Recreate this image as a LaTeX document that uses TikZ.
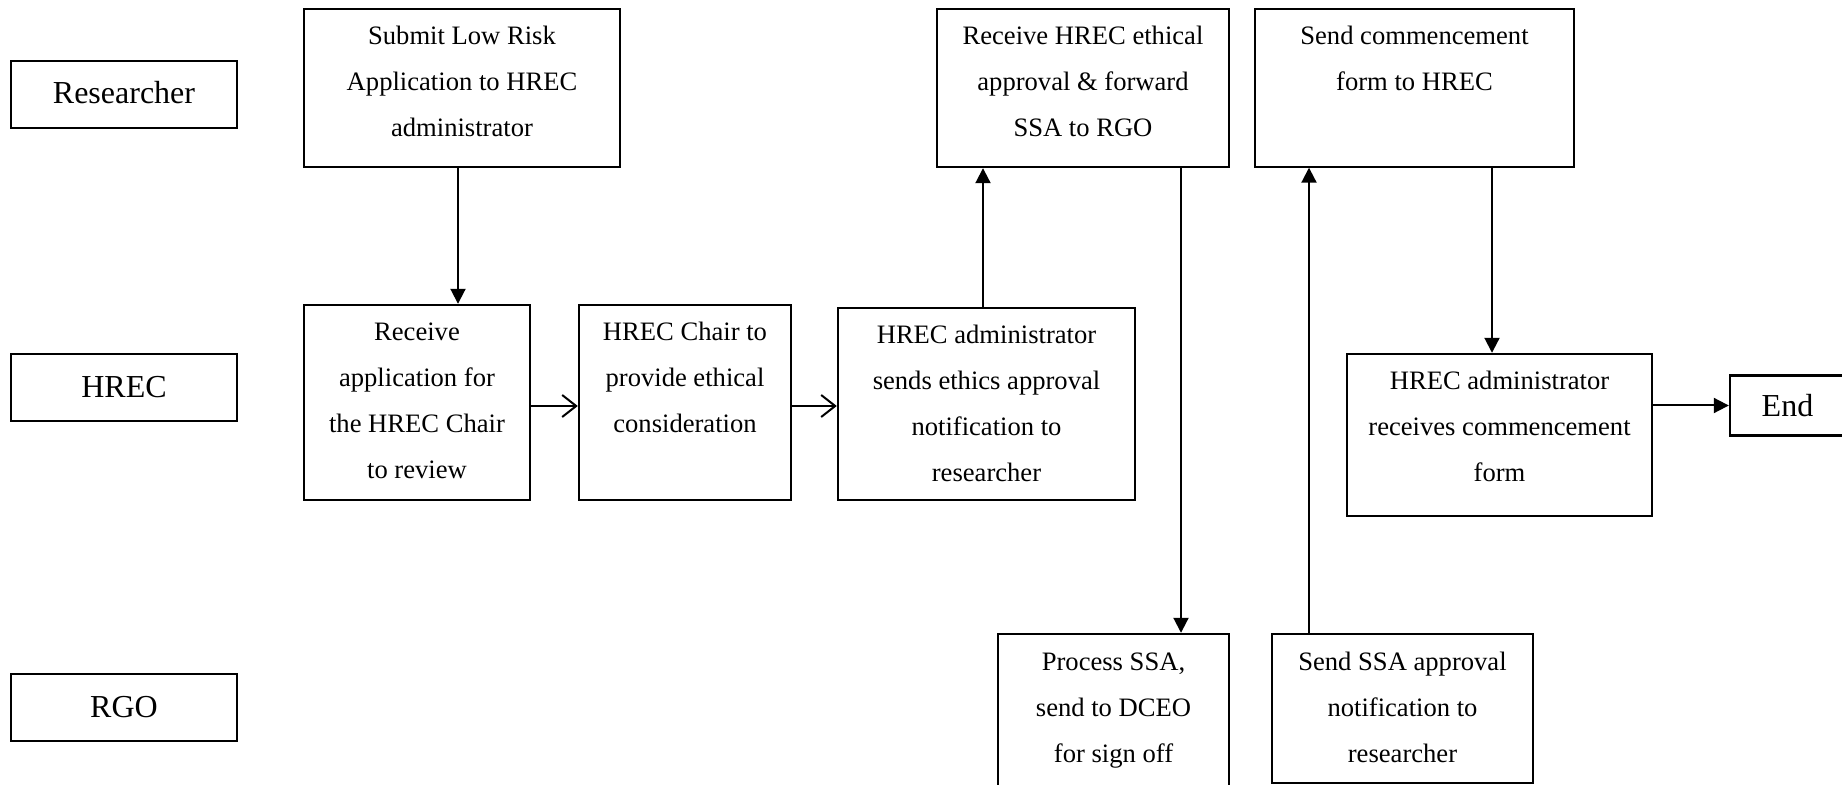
\documentclass[tikz,border=0pt]{standalone}
\usepackage{fontspec}
\setmainfont{Liberation Serif}
\usetikzlibrary{arrows.meta,calc}
% one drawing unit (px) = 0.5pt
\newdimen\px \px=0.5pt
% fixed-size box with its text set from the top
\newcommand{\boxtext}[3]{\parbox[c][#2\px][t]{#1\px}{\centering\rule{0pt}{18pt}#3}}
\begin{document}
\begin{tikzpicture}[x=0.5pt,y=-0.5pt,
  stepbox/.style={draw, line width=1.2pt, inner sep=0pt, font=\fontsize{13.3}{23}\selectfont},
  thinbox/.style={stepbox, line width=0.7pt},
  lane/.style={draw, line width=1.2pt, inner sep=0pt, minimum width=113pt, minimum height=33.5pt, font=\fontsize{16}{19}\selectfont},
  arr/.style={line width=1pt, -{Triangle[length=7.5pt,width=7.5pt]}},
  openarr/.style={line width=1pt, -{Straight Barb[length=7pt,width=11pt,line width=1pt]}}]
\useasboundingbox (0,0) rectangle (1842,785);
\clip (0,0) rectangle (1842,785);

% swimlane labels
\node[lane] (researcher) at (124,94.5) {\raisebox{2pt}{Researcher}};
\node[lane] (hrec) at (124,387.5) {\raisebox{1pt}{HREC}};
\node[lane] (rgo) at (124,707.5) {\raisebox{1pt}{RGO}};

% process steps
\node[stepbox] (submit) at (462,88) {\boxtext{316}{158}{Submit Low Risk\\Application to HREC\\administrator}};
\node[stepbox] (recv) at (417,402.5) {\boxtext{226}{195}{Receive\\application for\\the HREC Chair\\to review}};
\node[stepbox] (chair) at (685,402.5) {\boxtext{212}{195}{HREC Chair to\\provide ethical\\consideration}};
\node[stepbox] (sends) at (986.5,404) {\boxtext{297}{192}{HREC administrator\\sends ethics approval\\notification to\\researcher}};
\node[stepbox] (approval) at (1083,88) {\boxtext{292}{158}{Receive HREC ethical\\approval \& forward\\SSA to RGO}};
\node[thinbox] (commence) at (1414.5,88) {\boxtext{319}{158}{Send commencement\\form to HREC}};
\node[stepbox] (adminrecv) at (1499.5,435) {\boxtext{305}{162}{HREC administrator\\receives commencement\\form}};
\node[stepbox] (process) at (1113.5,714) {\boxtext{231}{160}{Process SSA,\\send to DCEO\\for sign off}};
\node[stepbox] (sendssa) at (1402.5,708.5) {\boxtext{261}{149}{Send SSA approval\\notification to\\researcher}};
\node[lane, minimum width=57.5pt, minimum height=30pt] (end) at (1787.5,405.5) {End};

% connector positions
\coordinate (xa) at (458,0);
\coordinate (xb) at (983,0);
\coordinate (xc) at (1181,0);
\coordinate (xd) at (1309,0);
\coordinate (xe) at (1492,0);
\coordinate (ya) at (0,406);

% connectors
\draw[arr] (submit.south -| xa) -- (recv.north -| xa);
\draw[openarr] (recv.east |- ya) -- (chair.west |- ya);
\draw[openarr] (chair.east |- ya) -- (sends.west |- ya);
\draw[arr] (sends.north -| xb) -- (approval.south -| xb);
\draw[arr] (approval.south -| xc) -- (process.north -| xc);
\draw[arr] (sendssa.north -| xd) -- (commence.south -| xd);
\draw[arr] (commence.south -| xe) -- (adminrecv.north -| xe);
\draw[arr] (adminrecv.east |- end) -- (end.west);
\end{tikzpicture}
\end{document}
